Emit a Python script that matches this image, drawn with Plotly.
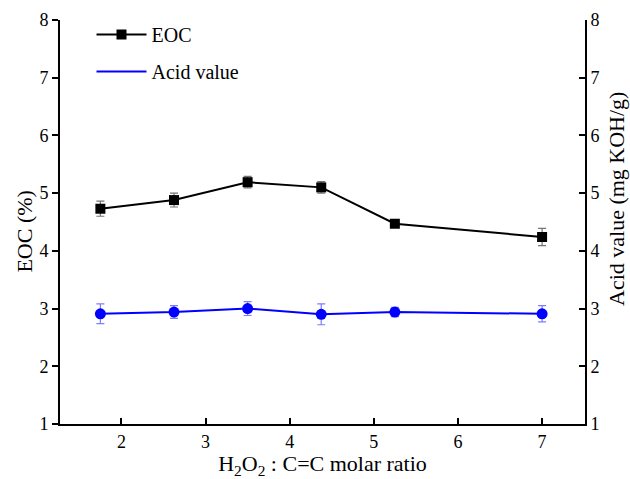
import plotly.graph_objects as go

# H2O2 : C=C molar ratio
ratio = [1.75, 2.625, 3.5, 4.375, 5.25, 7.0]

# Epoxy oxygen content (%)
eoc = [4.73, 4.88, 5.19, 5.10, 4.47, 4.24]
eoc_err = [0.13, 0.12, 0.10, 0.10, 0.06, 0.15]

# Acid value (mg KOH/g)
acid = [2.91, 2.94, 3.00, 2.90, 2.94, 2.91]
acid_err = [0.17, 0.11, 0.12, 0.18, 0.08, 0.14]

y_ticks = [1, 2, 3, 4, 5, 6, 7, 8]
x_ticks = [2, 3, 4, 5, 6, 7]

FONT = "Liberation Serif"

fig = go.Figure()

fig.add_trace(go.Scatter(
    x=ratio, y=eoc, name="EOC", mode="lines+markers",
    legendgroup="eoc",
    line=dict(color="black", width=2),
    marker=dict(symbol="square", size=10, color="black"),
    error_y=dict(type="data", array=eoc_err, visible=True,
                 color="rgba(90,90,90,0.85)", thickness=1.2, width=4),
    yaxis="y",
))

# acid value line (legend entry is the plain line)
fig.add_trace(go.Scatter(
    x=ratio, y=acid, name="Acid value", mode="lines",
    legendgroup="acid",
    line=dict(color="#0000ff", width=2),
    yaxis="y2",
))

# acid value points with error bars
fig.add_trace(go.Scatter(
    x=ratio, y=acid, name="Acid value", mode="markers",
    legendgroup="acid", showlegend=False,
    marker=dict(symbol="circle", size=11, color="#0000ff"),
    error_y=dict(type="data", array=acid_err, visible=True,
                 color="rgba(80,80,255,0.75)", thickness=1.2, width=4),
    yaxis="y2",
))

axis_common = dict(
    tickwidth=2, tickcolor="black", showline=True, linewidth=2,
    linecolor="black", showgrid=False, zeroline=False, automargin=False,
    tickfont=dict(family=FONT, size=18),
)

# vertical axis titles placed beside the tick labels
title_font = dict(family=FONT, size=22, color="black")
annotations = [
    dict(text="EOC (%)", textangle=-90, xref="paper", yref="paper",
         x=-0.0676, y=0.475, xanchor="center", yanchor="middle",
         showarrow=False, font=title_font),
    dict(text="Acid value (mg KOH/g)", textangle=-90, xref="paper",
         yref="paper", x=1.061, y=0.557, xanchor="center", yanchor="middle",
         showarrow=False, font=title_font),
]

fig.update_layout(
    width=630, height=479,
    margin=dict(l=60, r=45, t=20, b=55),
    paper_bgcolor="white", plot_bgcolor="white",
    font=dict(family=FONT, size=18, color="black"),
    showlegend=True,
    legend=dict(x=0.06, y=1.0125, xanchor="left", yanchor="top",
                bgcolor="rgba(0,0,0,0)", font=dict(family=FONT, size=20),
                tracegroupgap=8, itemwidth=50),
    annotations=annotations,
    xaxis=dict(
        range=[1.27, 7.51], tickvals=x_ticks, ticks="inside", ticklen=6,
        title=dict(text="H<sub>2</sub>O<sub>2</sub> : C=C molar ratio",
                   font=dict(family=FONT, size=22)),
        **axis_common,
    ),
    yaxis=dict(
        range=[1, 8], tickvals=y_ticks, ticks="outside", ticklen=6,
        **axis_common,
    ),
    yaxis2=dict(
        range=[1, 8], tickvals=y_ticks, ticks="inside", ticklen=6,
        overlaying="y", side="right",
        **axis_common,
    ),
)

fig.write_html("out.html")
